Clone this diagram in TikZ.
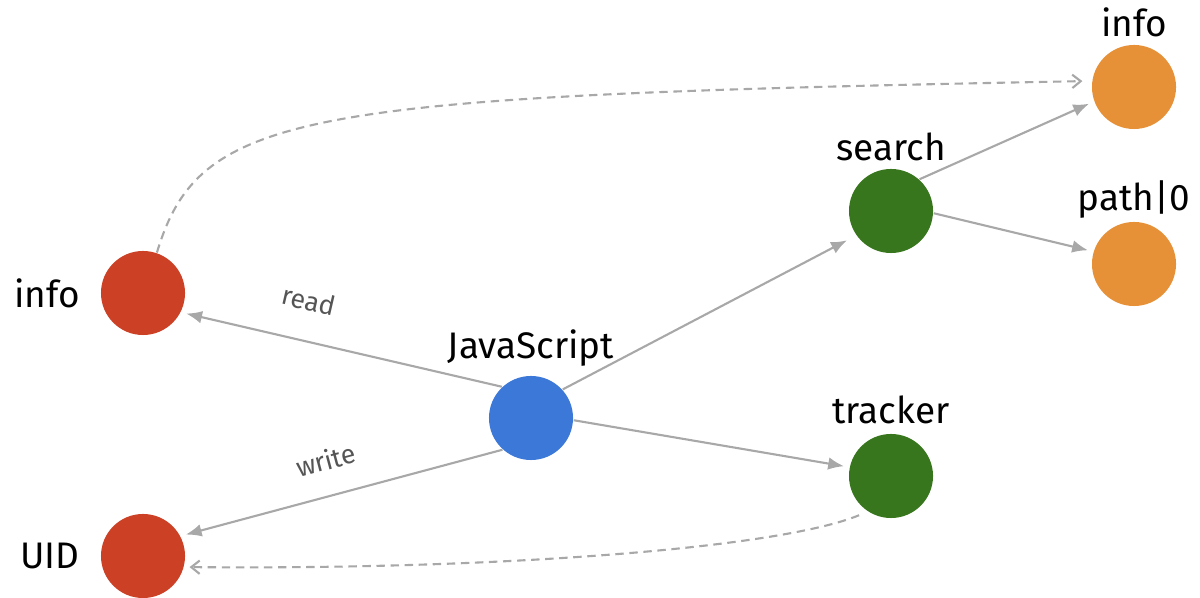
\documentclass[tikz,border=0pt]{standalone}
\usepackage{fontspec}
\setmainfont{Fira Sans}
\usepackage{tikz}
\usetikzlibrary{arrows.meta}
\definecolor{jsblue}{HTML}{3C78D8}
\definecolor{cookiered}{HTML}{CC4125}
\definecolor{hostgreen}{HTML}{38761D}
\definecolor{leakorange}{HTML}{E69138}
\definecolor{edgegray}{HTML}{A8A8A8}
\definecolor{txtgray}{HTML}{555555}

\begin{document}
\begin{tikzpicture}[x=0.01cm, y=-0.01cm,
    ball/.style={circle, fill=#1, minimum size=0.84cm, inner sep=0pt},
    caption/.style={font=\fontsize{10.5}{12}\selectfont, text=black},
    flow/.style={draw=edgegray, line width=0.6pt, shorten >=1.5pt, -{Latex[length=4.5pt, width=3.6pt]}},
    leak/.style={draw=edgegray, line width=0.6pt, shorten >=1.5pt, dash pattern=on 2.4pt off 1.6pt, -{Straight Barb[length=2.4pt, width=3.8pt]}},
    tag/.style={font=\fontsize{7.6}{9}\selectfont, text=txtgray}]
          \useasboundingbox (0, 0) rectangle (1200, 598);
          \node[ball=jsblue] (js) at (531, 418) {};
          \node[caption] (jslabel) at (531, 348) {JavaScript};
          \node[ball=cookiered] (read) at (143, 293) {};
          \node[caption] (readlabel) at (47, 293) {info};
          \node[ball=cookiered] (uid) at (143, 556) {};
          \node[caption] (uidlabel) at (50, 556) {UID};
          \node[ball=hostgreen] (search) at (891, 211) {};
          \node[caption] (searchlabel) at (891, 147) {search};
          \node[ball=hostgreen] (tracker) at (891, 476) {};
          \node[caption] (trackerlabel) at (891, 410) {tracker};
          \node[ball=leakorange] (info) at (1134, 87) {};
          \node[caption] (infolabel) at (1134, 22) {info};
          \node[ball=leakorange] (path) at (1134, 264) {};
          \node[caption] (pathlabel) at (1134, 200) {path|0};
          \draw[flow] (js.133) -- node[tag, above=5pt, sloped, pos=0.63] {read} (read.-27);
          \draw[flow] (js.-132) -- node[tag, above=3.5pt, sloped, pos=0.52] {write} (uid.28);
          \draw[flow] (js.42) -- ([shift={(-4, 3)}]search.214);
          \draw[flow] (js.-3) -- (tracker.168);
          \draw[flow] (search.48) -- (info.200);
          \draw[flow] (search.-3) -- (path.163);
          \draw[leak] (read.71) .. controls (200, 110) and (300, 96) .. ([shift={(-4, 0)}]info.172);
          \draw[leak] ([shift={(-5, 6)}]tracker.231) .. controls (780, 548) and (500, 570) .. (uid.-15);
         \end{tikzpicture}
\end{document}
